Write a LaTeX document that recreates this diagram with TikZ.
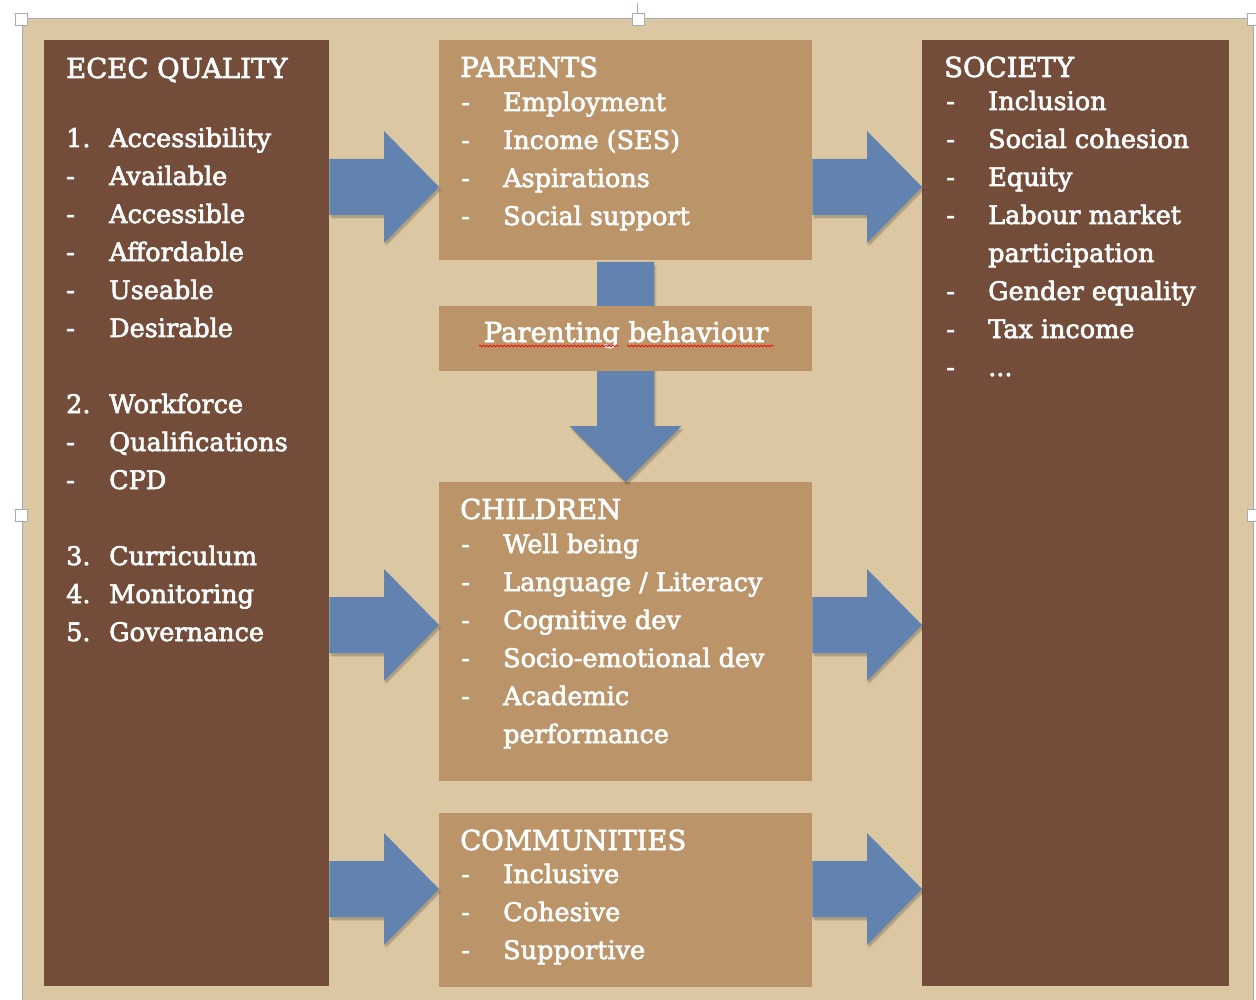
\documentclass[tikz,border=0pt]{standalone}
\usepackage{fontspec}
\setmainfont{DejaVu Serif}
\newfontfamily\boxfont{DejaVu Serif}[FakeBold=2.5]
\usetikzlibrary{decorations.pathmorphing,calc}
\definecolor{bgtan}{RGB}{219,199,161}
\definecolor{darkbr}{RGB}{115,77,58}
\definecolor{lightbr}{RGB}{187,148,105}
\definecolor{arrowblue}{RGB}{98,130,176}
\definecolor{framegray}{RGB}{165,172,185}
\tikzset{
  darkbox/.style={fill=darkbr, draw=none, inner sep=0pt, anchor=north west},
  lightbox/.style={fill=lightbr, draw=none, inner sep=0pt, anchor=north west},
  titletxt/.style={text=white, inner sep=0pt, anchor=base west, font=\fontsize{27.5}{33}\selectfont\boxfont},
  itemtxt/.style={text=white, inner sep=0pt, anchor=base west, font=\fontsize{25.5}{38}\selectfont\boxfont},
  blockarrow/.style={fill=arrowblue, draw=none},
  arrowshadow/.style={fill=black, opacity=0.045, draw=none},
  handle/.style={fill=white, draw=framegray, line width=0.8pt, minimum size=12pt, inner sep=0pt},
  spell/.style={draw=red, line width=0.7pt, decorate, decoration={snake, segment length=3.5pt, amplitude=0.9pt}}
}
% right block arrow outline: #1 tail coordinate, #2 tip coordinate, #3 shift
\newcommand{\rightpath}[3]{%
  let \p1=(#1), \p2=(#2) in [shift={#3}]
    (\x1,\y2+28pt) -- (\x2-55pt,\y2+28pt) -- (\x2-55pt,\y2+56pt) -- (\x2,\y2)
    -- (\x2-55pt,\y2-56pt) -- (\x2-55pt,\y2-28pt) -- (\x1,\y2-28pt) -- cycle}
\newcommand{\rightblock}[2]{%
  \foreach \sx/\sy in {1/3,2/4,1.5/2.5,0.5/3.5,2.5/3}{\path[arrowshadow] \rightpath{#1}{#2}{(\sx pt,-\sy pt)};}
  \path[blockarrow] \rightpath{#1}{#2}{(0pt,0pt)};}
\begin{document}
\begin{tikzpicture}[x=1pt,y=-1pt]
\useasboundingbox (0,0) rectangle (1256,1000);
\fill[white] (0,0) rectangle (1256,1000);
% background panel
\node[fill=bgtan, draw=framegray, line width=0.6pt, inner sep=0pt, anchor=north west, minimum width=1231pt, minimum height=990pt] (panel) at (22,18) {};

% main boxes
\node[darkbox, minimum width=285pt, minimum height=946pt] (ecec) at (44,40) {};
\node[darkbox, minimum width=307pt, minimum height=946pt] (society) at (922,40) {};
\node[lightbox, minimum width=373pt, minimum height=220pt] (parents) at (439,40) {};
\node[lightbox, minimum width=373pt, minimum height=299pt] (children) at (439,482) {};
\node[lightbox, minimum width=373pt, minimum height=174pt] (communities) at (439,813) {};

% down arrow parents -> children (behind parenting box)
\coordinate (dtail) at (628,262);
\coordinate (dtip) at ($(children.north west)!0.5!(children.north east)$);
\newcommand{\downpath}[1]{let \p1=(dtail), \p2=(dtip) in [shift={#1}]
  (\x2-28.5pt,\y1) -- (\x2+28.5pt,\y1) -- (\x2+28.5pt,\y2+56pt) -- (\x2+56pt,\y2+56pt)
  -- (\x2,\y2) -- (\x2-56pt,\y2+56pt) -- (\x2-28.5pt,\y2+56pt) -- cycle}
\foreach \sx/\sy in {1/3,2/4,1.5/2.5,0.5/3.5,2.5/3}{\path[arrowshadow] \downpath{(\sx pt,-\sy pt)};}
\path[blockarrow] \downpath{(0pt,0pt)};

\node[lightbox, minimum width=373pt, minimum height=65pt] (parenting) at (439,306) {};
\node[titletxt, anchor=base] (parlabel) at (626,342) {Parenting behaviour};
\draw[spell] (479,346) -- (619,346);
\draw[spell] (627,346) -- (774,346);

% horizontal block arrows
\coordinate (l1s) at (ecec.east |- 0,187);      \coordinate (l1t) at (parents.west |- 0,187);
\coordinate (l2s) at (ecec.east |- 0,625);      \coordinate (l2t) at (children.west |- 0,625);
\coordinate (l3s) at (ecec.east |- 0,889);      \coordinate (l3t) at (communities.west |- 0,889);
\coordinate (r1s) at (parents.east |- 0,187);   \coordinate (r1t) at (society.west |- 0,187);
\coordinate (r2s) at (children.east |- 0,625);  \coordinate (r2t) at (society.west |- 0,625);
\coordinate (r3s) at (communities.east |- 0,889); \coordinate (r3t) at (society.west |- 0,889);
\rightblock{l1s}{l1t}
\rightblock{l2s}{l2t}
\rightblock{l3s}{l3t}
\rightblock{r1s}{r1t}
\rightblock{r2s}{r2t}
\rightblock{r3s}{r3t}

% ECEC QUALITY text
\node[titletxt] (ecect) at (66,78) {ECEC QUALITY};
\foreach \lab/\txt/\yy [count=\i] in {1./Accessibility/147, -/Available/185, -/Accessible/223, -/Affordable/261, -/Useable/299, -/Desirable/337, 2./Workforce/413, -/Qualifications/451, -/CPD/489, 3./Curriculum/565, 4./Monitoring/603, 5./Governance/641}{
  \node[itemtxt] (ecl-\i) at (66,\yy) {\lab};
  \node[itemtxt] (eci-\i) at (109,\yy) {\txt};
}

% PARENTS text
\node[titletxt] (part) at (460,77) {PARENTS};
\foreach \txt [count=\i] in {Employment, Income (SES), Aspirations, Social support}{
  \node[itemtxt] (pard-\i) at (461,{111+38*(\i-1)}) {-};
  \node[itemtxt] (pari-\i) at (503,{111+38*(\i-1)}) {\txt};
}

% CHILDREN text
\node[titletxt] (cht) at (460,519) {CHILDREN};
\foreach \txt [count=\i] in {Well being, Language / Literacy, Cognitive dev, Socio-emotional dev, Academic}{
  \node[itemtxt] (chd-\i) at (461,{553+38*(\i-1)}) {-};
  \node[itemtxt] (chi-\i) at (503,{553+38*(\i-1)}) {\txt};
}
\node[itemtxt] (chi-6) at (503,743) {performance};

% COMMUNITIES text
\node[titletxt] (cot) at (460,850) {COMMUNITIES};
\foreach \txt [count=\i] in {Inclusive, Cohesive, Supportive}{
  \node[itemtxt] (cod-\i) at (461,{883+38*(\i-1)}) {-};
  \node[itemtxt] (coi-\i) at (503,{883+38*(\i-1)}) {\txt};
}

% SOCIETY text
\node[titletxt] (sot) at (944,77) {SOCIETY};
\foreach \lab/\txt/\yy [count=\i] in {-/Inclusion/110, -/Social cohesion/148, -/Equity/186, -/Labour market/224, {}/participation/262, -/Gender equality/300, -/Tax income/338}{
  \node[itemtxt] (sod-\i) at (946,\yy) {\lab};
  \node[itemtxt] (soi-\i) at (988,\yy) {\txt};
}
\node[itemtxt] (sod-8) at (946,376) {-};
\node[itemtxt] (soi-8) at (988,376) {...};

% selection handles
\draw[framegray, line width=0.8pt] (637.5,3) -- (637.5,13);
\node[handle] (h1) at (21,19) {};
\node[handle] (h2) at (638,19) {};
\node[handle] (h3) at (21,515) {};
\node[handle] (h4) at (1253,515) {};
\node[handle] (h5) at (1253,19) {};
\end{tikzpicture}
\end{document}
